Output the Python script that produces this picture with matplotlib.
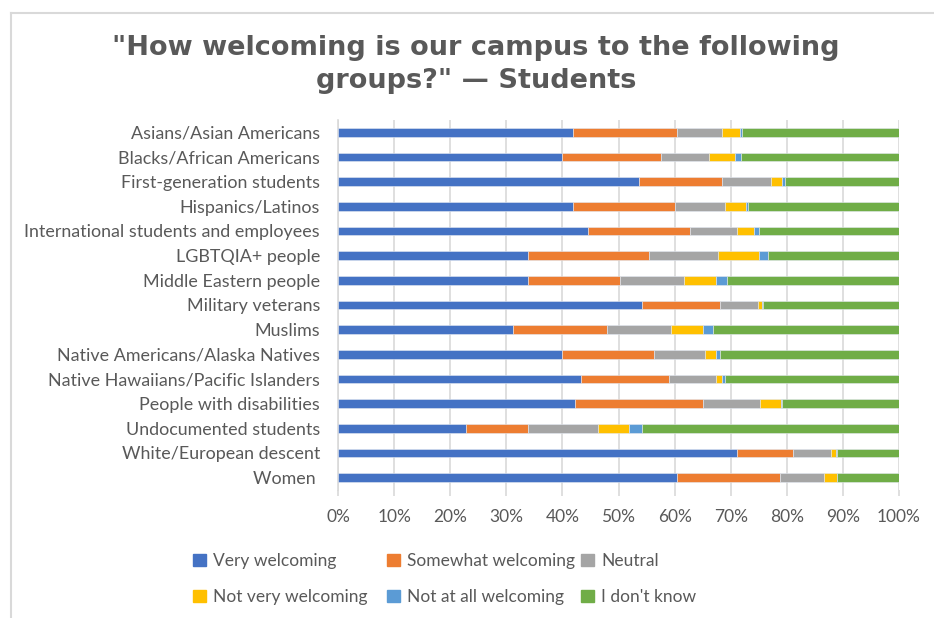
import numpy as np
import matplotlib
matplotlib.use('Agg')
import matplotlib.pyplot as plt
import matplotlib.patches as patches
from matplotlib.lines import Line2D

# survey groups, top to bottom
groups = [
    'Asians/Asian Americans',
    'Blacks/African Americans',
    'First-generation students',
    'Hispanics/Latinos',
    'International students and employees',
    'LGBTQIA+ people',
    'Middle Eastern people',
    'Military veterans',
    'Muslims',
    'Native Americans/Alaska Natives',
    'Native Hawaiians/Pacific Islanders',
    'People with disabilities',
    'Undocumented students',
    'White/European descent',
    'Women ']

responses = ['Very welcoming', 'Somewhat welcoming', 'Neutral',
             'Not very welcoming', 'Not at all welcoming', "I don't know"]

# percent of students per response, same order as groups
veryWelcoming     = [41.9, 39.9, 53.7, 41.9, 44.5, 33.9, 33.9, 54.1, 31.2, 39.9, 43.4, 42.2, 22.8, 71.2, 60.5]
somewhatWelcoming = [18.6, 17.6, 14.8, 18.2, 18.3, 21.5, 16.3, 14.0, 16.8, 16.5, 15.6, 22.9, 11.1,  9.9, 18.3]
neutral           = [ 8.0,  8.7,  8.7,  8.8,  8.4, 12.4, 11.5,  6.8, 11.3,  9.1,  8.4, 10.2, 12.5,  6.8,  7.9]
notVeryWelcoming  = [ 3.1,  4.6,  2.0,  3.8,  3.0,  7.2,  5.7,  0.7,  5.7,  1.9,  1.1,  3.6,  5.4,  0.8,  2.3]
notAtAllWelcoming = [ 0.4,  1.1,  0.4,  0.3,  0.8,  1.6,  1.9,  0.2,  1.9,  0.7,  0.4,  0.2,  2.3,  0.3,  0.0]
dontKnow          = [28.0, 28.1, 20.4, 27.0, 25.0, 23.4, 30.7, 24.2, 33.1, 31.9, 31.1, 20.9, 45.9, 11.0, 11.0]

xTicks = [0, 10, 20, 30, 40, 50, 60, 70, 80, 90, 100]

titleLines = ['"How welcoming is our campus to the following',
              'groups?" \u2014 Students']

#Colors
respColors = ['#4472C4', '#ED7D31', '#A5A5A5', '#FFC000', '#5B9BD5', '#70AD47']
textColor = '#595959'
gridColor = '#D9D9D9'
labelFont = 'Lato'

W, H = 934, 618  # figure size in px


def plotBars(ax):
    series = [veryWelcoming, somewhatWelcoming, neutral,
              notVeryWelcoming, notAtAllWelcoming, dontKnow]
    yPos = np.arange(len(groups))
    left = np.zeros(len(groups))
    for vals, name, col in zip(series, responses, respColors):
        vals = np.array(vals)
        ax.barh(yPos, vals, left=left, height=0.36, color=col,
                edgecolor='#E4E9F2', linewidth=0.4, label=name, zorder=3)
        left += vals


def styleAxes(ax):
    ax.set_xlim(0, 100)
    ax.set_ylim(len(groups) - 0.5, -0.5)
    ax.set_yticks(np.arange(len(groups)))
    ax.set_yticklabels(groups, fontsize=12.9, color=textColor, family=labelFont)
    ax.set_xticks(xTicks)
    ax.set_xticklabels([str(t) + '%' for t in xTicks], fontsize=12.5,
                       color=textColor, family=labelFont)
    ax.grid(axis='x', color=gridColor, linewidth=1.2, zorder=0)
    ax.tick_params(axis='y', length=0, pad=13)
    ax.tick_params(axis='x', length=4, color=gridColor, width=1.2, pad=10)
    for s in ['top', 'right', 'bottom']:
        ax.spines[s].set_visible(False)
    ax.spines['left'].set_color(gridColor)
    ax.spines['left'].set_linewidth(1.2)


def addLegend(fig):
    # one small legend per column so the columns sit at fixed spacing
    colX = [193, 387, 581]
    for c in range(3):
        idx = [c, c + 3]
        h = [patches.Patch(color=respColors[i]) for i in idx]
        l = [responses[i] for i in idx]
        fig.legend(h, l, loc='center left',
                   bbox_to_anchor=(colX[c] / W, 1 - 579 / H),
                   frameon=False, handlelength=0.72, handleheight=0.72,
                   handletextpad=0.45, labelspacing=1.16, borderpad=0,
                   borderaxespad=0,
                   prop={'family': labelFont, 'size': 12.5}, labelcolor=textColor)


def addFrame(fig):
    fig.add_artist(Line2D([11 / W, 1], [1 - 13 / H, 1 - 13 / H],
                          color=gridColor, linewidth=1.5, transform=fig.transFigure))
    fig.add_artist(Line2D([11 / W, 11 / W], [0, 1 - 13 / H],
                          color=gridColor, linewidth=1.5, transform=fig.transFigure))


def addTitle(fig):
    baselines = [55, 88]
    for txt, yb in zip(titleLines, baselines):
        fig.text(476 / W, 1 - yb / H, txt, ha='center', va='baseline',
                 fontsize=19.5, fontweight='bold', color=textColor,
                 family='DejaVu Sans')


def main():
    fig = plt.figure(figsize=(W / 100, H / 100), dpi=100)
    ax = fig.add_axes([338 / W, 1 - 490 / H, (899 - 338) / W, 370 / H])
    plotBars(ax)
    styleAxes(ax)
    addLegend(fig)
    addFrame(fig)
    addTitle(fig)
    fig.savefig('out.png', dpi=100)


if __name__ == "__main__":
    main()
